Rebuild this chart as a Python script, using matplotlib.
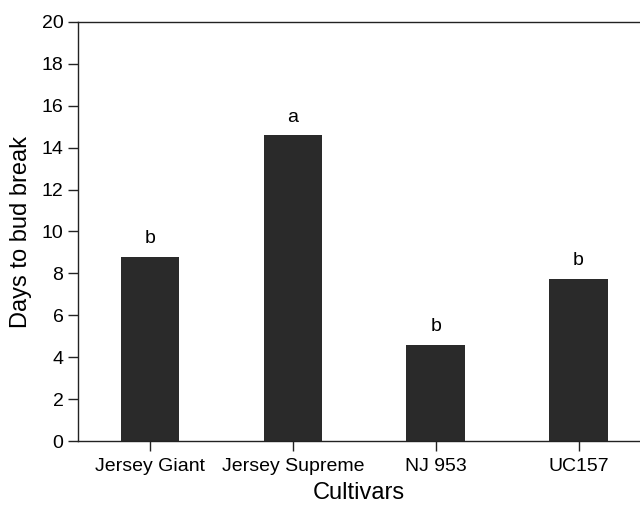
import numpy as np
import matplotlib.pyplot as plt

plt.rcParams['font.family'] = ['Liberation Sans', 'DejaVu Sans']

cultivars = ['Jersey Giant', 'Jersey Supreme', 'NJ 953', 'UC157']
days = [8.8, 14.6, 4.6, 7.75]
letters = ['b', 'a', 'b', 'b']

fig = plt.figure(figsize=(6.4, 5.09), dpi=100)
ax = fig.add_axes([78/640, 68/509, 1 - 78/640, 419/509])

x = np.arange(len(cultivars))
ax.bar(x, days, width=0.41, color='#2a2a2a')
for xi, v, l in zip(x, days, letters):
    ax.text(xi, v + 0.45, l, ha='center', va='bottom', fontsize=14)

ax.set_xlim(-0.505, 3.43)
ax.set_ylim(0, 20)
ax.set_yticks(range(0, 21, 2))
ax.set_xticks(x)
ax.set_xticklabels(cultivars)
ax.tick_params(labelsize=14, length=7, width=1, color='#222222')
ax.tick_params(axis='x', pad=5)
ax.spines['right'].set_visible(False)
for s in ['left', 'bottom', 'top']:
    ax.spines[s].set_linewidth(1)
    ax.spines[s].set_color('#222222')

ax.set_xlabel('Cultivars', fontsize=17, labelpad=5)
ax.set_ylabel('Days to bud break', fontsize=17, labelpad=7)

fig.savefig('out.png', dpi=100)
